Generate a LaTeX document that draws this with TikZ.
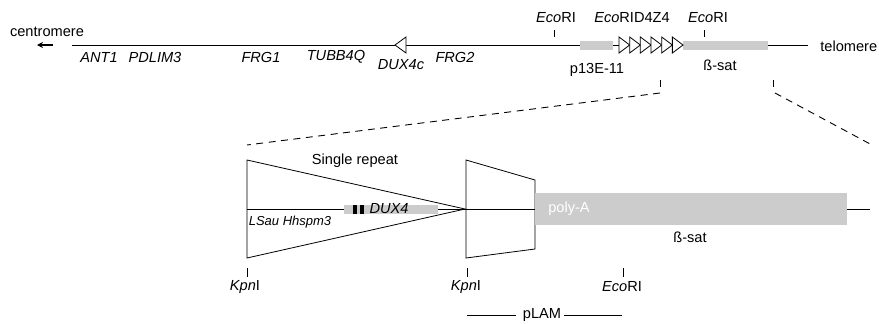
\documentclass[tikz,border=0pt]{standalone}
\usepackage{fontspec}
\setmainfont{Liberation Sans}
\usetikzlibrary{arrows.meta, positioning}

\definecolor{boxgrey}{RGB}{204,204,204}

\tikzset{
  lbl/.style={inner sep=0pt, font=\fontsize{14.6}{16}\selectfont},
  gene/.style={lbl, font=\fontsize{14.6}{16}\selectfont\itshape},
  greybox/.style={fill=boxgrey, draw=none, inner sep=0pt},
  repunit/.style={draw, fill=white, line join=miter},
  cutsite/.style={line width=0.8pt},
  zoomline/.style={dash pattern=on 7pt off 5.5pt, line width=0.9pt}
}

\begin{document}
\begin{tikzpicture}[x=1pt, y=-1pt, line width=0.8pt]
  \useasboundingbox (0,0) rectangle (879,324);

  % Chromosome 4q overview
  \coordinate (chrL) at (72,45);
  \coordinate (chrR) at (808,45);
  \draw (chrL) -- (chrR);
  \node[lbl] (centro) at (47,32) {centromere};
  \coordinate (arrTail) at (53,45);
  \coordinate (arrHead) at (37,45);
  \draw[-{Stealth[length=6pt,width=6pt]}, line width=1.2pt] (arrTail) -- (arrHead);
  \node[lbl, anchor=west] (telo) at (820,46) {telomere};

  % Genes
  \node[gene] (ant1) at (99,57) {ANT1};
  \node[gene] (pdlim3) at (155,57) {PDLIM3};
  \node[gene] (frg1) at (261,57) {FRG1};
  \node[gene] (tubb4q) at (336,57) {TUBB4Q};
  \node[gene] (dux4c) at (401,65) {DUX4c};
  \node[gene] (frg2) at (455,57) {FRG2};
  \draw[repunit] (395,45) -- (406,37) -- (406,53) -- cycle;

  % D4Z4 array and flanking regions
  \node[greybox, minimum width=33pt, minimum height=9pt] (p13) at (596.5,45) {};
  \node[greybox, minimum width=85pt, minimum height=9pt] (bsat) at (725,45) {};
  \foreach \i in {0,...,5}
    \draw[repunit] (619+\i*10.67,37) -- (619+\i*10.67+10.67,45) -- (619+\i*10.67,53) -- cycle;
  \node[lbl] (p13lbl) at (597,70) {p13E-11};
  \node[lbl] (bsatlbl) at (720,65) {ß-sat};

  % Restriction sites on top
  \draw[cutsite] (554,30) -- (554,37);
  \draw[cutsite] (704,30) -- (704,37);
  \node[lbl] (ecoA) at (556,18) {\textit{Eco}RI};
  \node[lbl] (ecoD4) at (632,18) {\textit{Eco}RID4Z4};
  \node[lbl] (ecoB) at (708,18) {\textit{Eco}RI};

  % Enlarged region
  \draw[cutsite] (660,80) -- (660,87);
  \draw[cutsite] (773,80) -- (773,87);
  \draw[zoomline] (660,93) -- (247,145);
  \draw[zoomline] (775,93) -- (872,145);

  % Single repeat and distal part
  \draw (247,209) -- (870,209);
  \draw (247,160) -- (465,209) -- (247,258) -- cycle;
  \draw (466,160) -- (535,180) -- (535,249) -- (466,258) -- cycle;
  \node[greybox, minimum width=94pt, minimum height=9pt] (dux4box) at (391,209) {};
  \fill (353,204.5) rectangle (357,213.5);
  \fill (359.5,204.5) rectangle (363.5,213.5);
  \node[gene] (dux4) at (389,209) {DUX4};
  \node[gene, font=\fontsize{13}{15}\selectfont\itshape] (lsau) at (290,222) {LSau Hhspm3};
  \node[lbl] (single) at (355,161) {Single repeat};
  \node[greybox, minimum width=312pt, minimum height=32pt] (polyabox) at (691,209) {};
  \node[lbl, text=white] (polya) at (569,209) {poly-A};
  \node[lbl] (bsatlow) at (690,237) {ß-sat};

  % Restriction sites below
  \draw[cutsite] (247,268) -- (247,277);
  \draw[cutsite] (467,268) -- (467,277);
  \draw[cutsite] (623,268) -- (623,277);
  \node[lbl] (kpnA) at (245,287) {\textit{Kpn}I};
  \node[lbl] (kpnB) at (466,287) {\textit{Kpn}I};
  \node[lbl] (ecoC) at (622,287) {\textit{Eco}RI};

  % pLAM
  \node[lbl] (plam) at (542,315) {pLAM};
  \coordinate (plamL) at (467,315);
  \coordinate (plamR) at (622,315);
  \draw (plamL) -- ([xshift=-7pt]plam.west);
  \draw ([xshift=3pt]plam.east) -- (plamR);
\end{tikzpicture}
\end{document}
